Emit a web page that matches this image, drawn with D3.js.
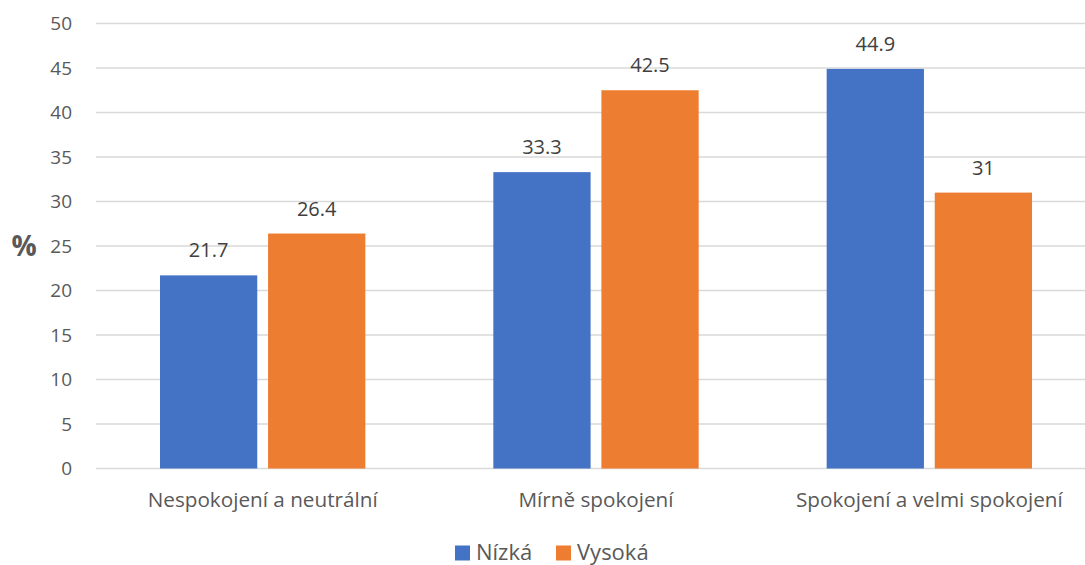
<!DOCTYPE html>
<html><head><meta charset="utf-8">
<script src="https://cdn.jsdelivr.net/npm/d3@7"></script>
<style>body{margin:0;background:#fff}svg{display:block}</style>
</head><body>
<svg id="c" width="1085" height="565"></svg>
<script>
const categories = ["Nespokojení a neutrální", "Mírně spokojení", "Spokojení a velmi spokojení"];
const seriesNames = ["Nízká", "Vysoká"];
const nizka = [21.7, 33.3, 44.9];
const vysoka = [26.4, 42.5, 31];
const yTicks = [0, 5, 10, 15, 20, 25, 30, 35, 40, 45, 50];
const colors = ["#4472C4", "#ED7D31"];
const font = "'Open Sans', sans-serif";

const svg = d3.select("#c");
const x = d3.scaleBand().domain(categories).range([96, 1096]).paddingInner(0).paddingOuter(0);
const x1 = d3.scaleBand().domain(seriesNames).range([64, x.bandwidth() - 64]).paddingInner(0.1);
const y = d3.scaleLinear().domain([0, 50]).range([468.5, 23.5]);

// gridlines
svg.append("g").selectAll("line").data(yTicks).join("line")
  .attr("x1", 96).attr("x2", 1096)
  .attr("y1", d => y(d)).attr("y2", d => y(d))
  .attr("stroke", "#d9d9d9").attr("stroke-width", 1.3);

// y axis labels
const yAxis = d3.axisLeft(y).tickValues(yTicks).tickSize(0).tickPadding(0);
const ya = svg.append("g").attr("transform", "translate(72,0)").call(yAxis);
ya.select(".domain").remove();
ya.selectAll("text").attr("font-family", font).attr("font-size", 19).attr("fill", "#595959");

// % label
svg.append("text").attr("x", 24).attr("y", 246).attr("dy", "0.35em")
  .attr("text-anchor", "middle").attr("font-family", font).attr("font-size", 28)
  .attr("font-weight", "bold").attr("fill", "#595959").text("%");

// bars
const data = categories.map((c, i) => ({c, vals: [nizka[i], vysoka[i]]}));
const groups = svg.append("g").selectAll("g").data(data).join("g")
  .attr("transform", d => `translate(${x(d.c)},0)`);
groups.selectAll("rect").data(d => d.vals.map((v, j) => ({s: seriesNames[j], v, j})))
  .join("rect")
  .attr("x", d => x1(d.s)).attr("width", x1.bandwidth())
  .attr("y", d => y(d.v)).attr("height", d => y(0) - y(d.v))
  .attr("fill", d => colors[d.j]);
groups.selectAll("text.v").data(d => d.vals.map((v, j) => ({s: seriesNames[j], v, j})))
  .join("text").attr("class", "v")
  .attr("x", d => x1(d.s) + x1.bandwidth() / 2).attr("y", d => y(d.v) - 18)
  .attr("text-anchor", "middle").attr("font-family", font).attr("font-size", 20)
  .attr("fill", "#404040").text(d => d.v);

// x axis labels
const xAxis = d3.axisBottom(x).tickSize(0).tickPadding(0);
const xa = svg.append("g").attr("transform", "translate(0,468.5)").call(xAxis);
xa.select(".domain").remove();
xa.selectAll("text").attr("y", 38.5).attr("dy", 0)
  .attr("font-family", font).attr("font-size", 20.7).attr("fill", "#595959");

// legend
const legX = [455, 556];
const leg = svg.append("g").selectAll("g").data(seriesNames).join("g")
  .attr("transform", (d, i) => `translate(${legX[i]},545.5)`);
leg.append("rect").attr("width", 15).attr("height", 15).attr("fill", (d, i) => colors[i]);
leg.append("text").attr("x", 21).attr("y", 14)
  .attr("font-family", font).attr("font-size", 22).attr("fill", "#595959").text(d => d);
</script>
</body></html>
